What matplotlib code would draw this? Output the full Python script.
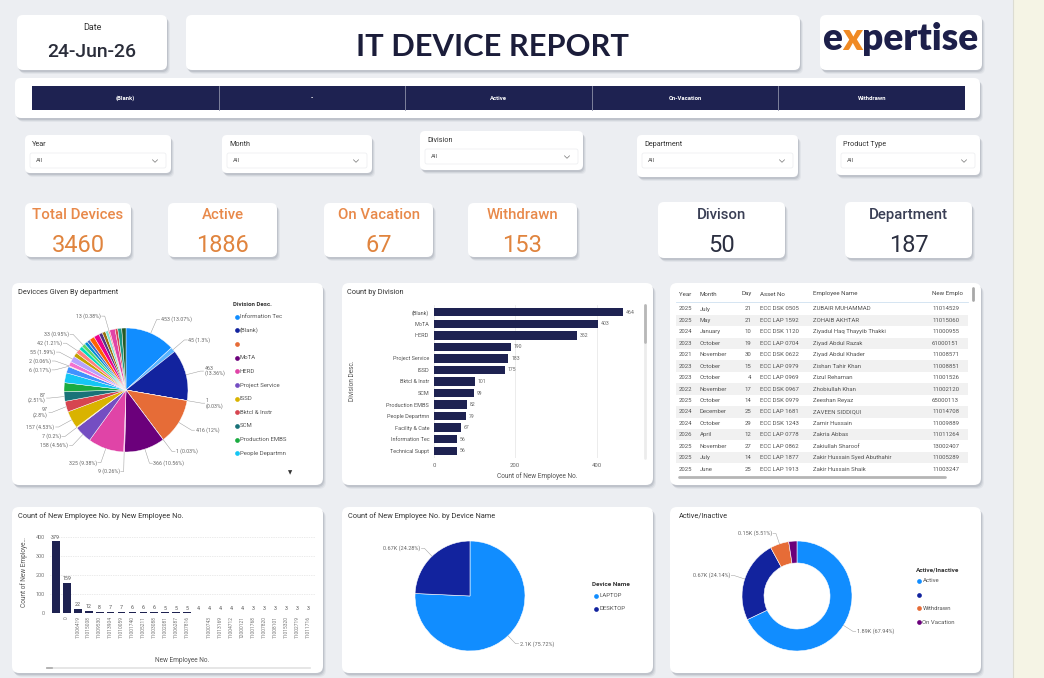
import matplotlib
matplotlib.use("Agg")
import matplotlib.pyplot as plt
from matplotlib.patches import FancyBboxPatch, Rectangle
import numpy as np

plt.rcParams['font.family'] = ['Roboto', 'DejaVu Sans']

# ---------------- data ----------------
report_date = "24-Jun-26"
report_title = "IT DEVICE REPORT"
status_labels = ["(Blank)", "-", "Active", "On-Vacation", "Withdrawn"]
filter_names = ["Year", "Month", "Division", "Department", "Product Type"]
kpi_names = ["Total Devices", "Active", "On Vacation", "Withdrawn", "Divison", "Department"]
kpi_values = [3460, 1886, 67, 153, 50, 187]

dept_values = [453, 45, 463, 1, 416, 1, 366, 9, 325, 158, 7, 157, 97, 87,
               80, 90, 58, 6, 2, 40, 55, 38, 42, 34, 33, 30, 28, 46, 50, 32, 30, 26, 13, 50, 24, 36, 38]
dept_show = [1, 1, 1, 1, 1, 1, 1, 1, 1, 1, 1, 1, 1, 1,
             0, 0, 0, 1, 1, 0, 1, 0, 1, 0, 1, 0, 0, 0, 0, 0, 0, 0, 1, 0, 0, 0, 0]
dept_colors = ['#118DFF', '#5BB5FF', '#12239E', '#FFA058', '#E66C37', '#B5A1FF', '#6B007B', '#F472D0',
               '#E044A7', '#744EC2', '#FFD54F', '#D9B300', '#D64550', '#197278', '#1AAB40', '#15C6F4',
               '#4092FF', '#FFA058', '#BE5DC9', '#F472D0', '#B5A1FF', '#C4A200', '#FF8080', '#00DBBC',
               '#5BD667', '#0091D5', '#4668C5', '#FF6300', '#EC008C', '#533285', '#99700A', '#7FE3D3',
               '#FF8080', '#E044A7', '#D64550', '#1F9A85', '#255A26']
legend1_names = ["Information Tec", "(Blank)", "", "MoTA", "HERD", "Project Service", "ISSD",
                 "Bktcl & Instr", "SCM", "Production EMBS", "People Departmn"]
legend1_colors = ['#118DFF', '#12239E', '#E66C37', '#6B007B', '#E044A7', '#744EC2', '#D9B300',
                  '#D64550', '#197278', '#1AAB40', '#15C6F4']

div_names = ["(Blank)", "MoTA", "HERD", "", "Project Service", "ISSD", "Bktcl & Instr", "SCM",
             "Production EMBS", "People Departmn", "Facility & Cate", "Information Tec", "Technical Suppt"]
div_counts = [464, 403, 352, 190, 183, 175, 101, 99, 82, 79, 67, 56, 56]

emp_ids = ["", "0", "11006419", "11015008", "11009530", "11013904", "11010059", "11001740",
           "11005211", "11003088", "11002081", "11006287", "11007816", "", "11000743", "11013169",
           "11004712", "12000121", "11001768", "11007820", "11008101", "11015320", "11002719", "11011716"]
emp_counts = [379, 159, 22, 12, 8, 7, 7, 6, 6, 6, 5, 5, 5, 4, 4, 4, 4, 4, 3, 3, 3, 3, 3, 3]

device_names = ["LAPTOP", "DESKTOP"]
device_counts = [2099, 673]

status_names = ["Active", "", "Withdrawn", "On Vacation"]
status_counts = [1886, 670, 153, 67]
status_colors = ['#118DFF', '#12239E', '#E66C37', '#6B007B']

table_headers = ["Year", "Month", "Day", "Asset No", "Employee Name", "New Emplo"]
table_year = [2025, 2025, 2024, 2023, 2021, 2023, 2023, 2022, 2025, 2024, 2024, 2026, 2025, 2025, 2025]
table_month = ["July", "May", "January", "October", "November", "October", "October", "November",
               "October", "December", "October", "April", "November", "July", "June"]
table_day = [21, 21, 10, 19, 30, 15, 4, 17, 14, 25, 29, 12, 27, 14, 25]
table_asset = ["ECC DSK 0505", "ECC LAP 1592", "ECC DSK 1120", "ECC LAP 0704", "ECC DSK 0622",
               "ECC LAP 0979", "ECC LAP 0969", "ECC DSK 0967", "ECC DSK 0979", "ECC LAP 1681",
               "ECC DSK 1243", "ECC LAP 0778", "ECC LAP 0862", "ECC LAP 1877", "ECC LAP 1913"]
table_name = ["ZUBAIR MUHAMMAD", "ZOHAIB AKHTAR", "Ziyadul Haq Thayyib Thakki", "Ziyad Abdul Razak",
              "Ziyad Abdul Khader", "Zishan Tahir Khan", "Zizul Rehaman", "Zhobiullah Khan",
              "Zeeshan Reyaz", "ZAVEEN SIDDIQUI", "Zamir Hussain", "Zakria Abbas", "Zakiullah Sharoof",
              "Zakir Hussain Syed Abuthahir", "Zakir Hussain Shaik"]
table_empno = ["11014529", "11015060", "11000955", "61000151", "11008571", "11008851", "11001526",
               "11002120", "65000113", "11014708", "11009889", "11011264", "13002407", "11005289", "11003247"]

# ---------------- figure ----------------
W, H = 1044, 678
fig = plt.figure(figsize=(W / 100, H / 100), dpi=100)
fig.patch.set_facecolor('#eceef2')
bg = fig.add_axes([0, 0, 1, 1])
bg.set_xlim(0, W)
bg.set_ylim(H, 0)
bg.axis('off')
renderer = fig.canvas.get_renderer()

NAVY = '#1e2251'


def card(x0, y0, x1, y1, r=6, fc='white', shadow=True, z=1):
    if shadow:
        for dx, dy, a in [(3, 4, 0.09), (2, 3, 0.14), (1, 2, 0.22)]:
            bg.add_patch(FancyBboxPatch((x0 + dx, y0 + dy), x1 - x0, y1 - y0,
                                        boxstyle=f"round,pad=0,rounding_size={r}",
                                        fc='#7d8290', ec='none', alpha=a, zorder=z))
    bg.add_patch(FancyBboxPatch((x0, y0), x1 - x0, y1 - y0, boxstyle=f"round,pad=0,rounding_size={r}",
                                fc=fc, ec='none', zorder=z + 0.1))


def txt(x, y, s, fs, color='#333333', ha='left', va='center', weight='normal', **kw):
    return bg.text(x, y, s, fontsize=fs, color=color, ha=ha, va=va, fontweight=weight, zorder=5, **kw)


def fit(t, width):
    w = t.get_window_extent(renderer).width
    t.set_fontsize(t.get_fontsize() * width / w)
    return t.get_fontsize()


def pax(x0, y0, x1, y1):
    ax = fig.add_axes([x0 / W, 1 - y1 / H, (x1 - x0) / W, (y1 - y0) / H])
    ax.patch.set_alpha(0)
    return ax


# right strip
bg.add_patch(Rectangle((1013, 0), W - 1013, H, fc='#f5f4e5', ec='none', zorder=0.5))
bg.plot([1013, 1013], [0, H], color='#dcdcd2', lw=0.8, zorder=0.6)

# ---------------- header ----------------
card(17, 15, 167, 70)
txt(92, 30, "Date", 6.5, color='#333333', ha='center', va='baseline')
t = txt(92, 57, report_date, 12, color='#2a2d3a', ha='center', va='baseline', weight='medium')
fit(t, 89)

card(186, 15, 800, 70)
t = txt(493, 56, report_title, 22, color='#1b1d3a', ha='center', va='baseline', weight='bold',
        family=['Lato', 'DejaVu Sans'])
fit(t, 273)

card(820, 15, 982, 70)
tmp = txt(0, 50, "expertise", 20, weight='heavy', va='baseline', family=['Lato', 'DejaVu Sans'])
sc = 156 / tmp.get_window_extent(renderer).width
tmp.remove()
xcur = 822
for part, col in [("e", '#1d1f4a'), ("x", '#f08a24'), ("pertise", '#1d1f4a')]:
    tp = txt(xcur, 50, part, 20 * sc, color=col, weight='heavy', va='baseline', family=['Lato', 'DejaVu Sans'])
    xcur = tp.get_window_extent(renderer).x1

card(15, 78, 980, 118)
bg.add_patch(Rectangle((32, 86), 965 - 32, 24, fc=NAVY, ec='none', zorder=2))
cw = (965 - 32) / len(status_labels)
for i, s in enumerate(status_labels):
    if i > 0:
        bg.plot([32 + i * cw] * 2, [86, 110], color='#8d90a8', lw=0.6, zorder=3)
    txt(32 + (i + 0.5) * cw, 98, s, 4.2, color='white', ha='center', weight='bold')

# ---------------- filters ----------------
fboxes = [(25, 135, 171, 173), (222, 135, 372, 173), (420, 131, 583, 170), (637, 135, 798, 177), (836, 135, 980, 175)]
for name, (x0, y0, x1, y1) in zip(filter_names, fboxes):
    card(x0, y0, x1, y1, r=5)
    txt(x0 + 7, y0 + 9, name, 5.2, color='#333333')
    bg.add_patch(FancyBboxPatch((x0 + 5, y0 + 18), x1 - x0 - 10, 15, boxstyle="round,pad=0,rounding_size=2",
                                fc='white', ec='#ebecef', lw=0.5, zorder=2))
    ymid = y0 + 26
    txt(x0 + 11, ymid, "All", 4.3, color='#555555')
    cx = x1 - 16
    bg.plot([cx - 2.5, cx, cx + 2.5], [ymid - 1.2, ymid + 1.3, ymid - 1.2], color='#777777', lw=0.5, zorder=5)

# ---------------- KPI cards ----------------
kboxes = [(25, 203, 131, 257), (168, 203, 277, 257), (324, 203, 433, 257), (468, 203, 577, 257),
          (658, 202, 785, 258), (845, 202, 972, 258)]
lab_fs = None
for k, (name, val, (x0, y0, x1, y1)) in enumerate(zip(kpi_names, kpi_values, kboxes)):
    card(x0, y0, x1, y1, r=6)
    cx = (x0 + x1) / 2
    lc = '#e8894a' if k < 4 else '#3a3f55'
    vc = '#e0843e' if k < 4 else '#2b2f40'
    tl = txt(cx, 219, name, 9, color=lc, ha='center', va='baseline', weight='medium')
    if lab_fs is None:
        lab_fs = fit(tl, 91)
    tl.set_fontsize(lab_fs)
    txt(cx, 251.5, str(val), 17, color=vc, ha='center', va='baseline', weight='normal')

# ---------------- chart panels ----------------
panels = [(12, 283, 323, 485), (342, 283, 653, 485), (670, 283, 981, 485),
          (12, 507, 323, 673), (342, 507, 653, 673), (670, 507, 981, 673)]
for p in panels:
    card(*p, r=7)

TITLE_FS = 5.3
txt(18, 293, "Devicces Given By department", TITLE_FS, color='#333333')
txt(347, 292, "Count by Division", TITLE_FS, color='#333333')
txt(18, 516, "Count of New Employee No. by New Employee No.", TITLE_FS, color='#333333')
txt(348, 516, "Count of New Employee No. by Device Name", TITLE_FS, color='#333333')
txt(679, 516, "Active/Inactive", TITLE_FS, color='#333333')


def place_labels(ax, wedges, labels, cx, cy, r, fs=3.8, rl=1.2, line_h=5.4, gap=3.5, color='#666666'):
    items = []
    for w, lab in zip(wedges, labels):
        if not lab:
            continue
        a = np.deg2rad((w.theta1 + w.theta2) / 2)
        ca, sa = np.cos(a), np.sin(a)
        items.append(dict(t=lab, ex=cx + r * ca, ey=cy + r * sa, lx=cx + r * rl * ca, ly=cy + r * rl * sa,
                          side=1 if ca >= 0 else -1, n=lab.count('\n') + 1))
    for side in (1, -1):
        its = sorted([i for i in items if i['side'] == side], key=lambda d: -d['ly'])
        for k in range(1, len(its)):
            need = (its[k - 1]['n'] + its[k]['n']) * line_h / 2 + gap
            if its[k - 1]['ly'] - its[k]['ly'] < need:
                its[k]['ly'] = its[k - 1]['ly'] - need
    for it in items:
        s = it['side']
        ax.plot([it['ex'], it['lx'], it['lx'] + s * 3], [it['ey'], it['ly'], it['ly']],
                color='#9a9a9a', lw=0.35, zorder=3)
        ax.text(it['lx'] + s * 4, it['ly'], it['t'], fontsize=fs, color=color,
                ha='left' if s > 0 else 'right', va='center', zorder=4, linespacing=1.0)


def pct_str(v, tot):
    p = f"{100 * v / tot:.2f}".rstrip('0').rstrip('.')
    return f"({p}%)"


def k_str(v):
    return f"{v / 1000:.2f}".rstrip('0').rstrip('.') + "K"


# ---- pie 1 ----
ax1 = pax(12, 283, 323, 485)
cx1, cy1, r1 = 126, H - 390, 62
w1, _ = ax1.pie(dept_values, colors=dept_colors, startangle=90, counterclock=False, center=(cx1, cy1),
                radius=r1, wedgeprops=dict(linewidth=0.3, edgecolor='white'))
tot1 = sum(dept_values)
labs1 = []
for w, v, sh in zip(w1, dept_values, dept_show):
    if not sh:
        labs1.append("")
        continue
    a = np.deg2rad((w.theta1 + w.theta2) / 2)
    sep = "\n" if abs(np.cos(a)) > 0.93 else " "
    labs1.append(f"{v}{sep}{pct_str(v, tot1)}")
place_labels(ax1, w1, labs1, cx1, cy1, r1, rl=1.24)
ax1.set_aspect('auto')
ax1.set_xlim(12, 323)
ax1.set_ylim(H - 485, H - 283)
ax1.axis('off')

txt(233, 305, "Division Desc.", 4.4, color='#333333', weight='bold')
for i, (nm, c) in enumerate(zip(legend1_names, legend1_colors)):
    y = 316.7 + i * 13.66
    bg.plot(236.5, y, 'o', ms=3.4, color=c, zorder=5, mec='none')
    txt(240, y, nm, 4.3, color='#555555')
txt(290, 473, "▼", 4.0, color='#333333', ha='center', family=['DejaVu Sans'])

# ---- bar chart: count by division ----
ax2 = pax(434, 305.4, 640, 457.6)
yp = np.arange(len(div_names))
ax2.barh(yp, div_counts, height=0.72, color=NAVY, zorder=3)
ax2.set_ylim(len(div_names) - 0.4, -0.6)
ax2.set_xlim(0, 507)
ax2.set_xticks([0, 200, 400])
ax2.set_yticks(yp)
ax2.set_yticklabels(div_names)
ax2.tick_params(axis='y', length=0, pad=3.5, labelsize=4.0, labelcolor='#555555')
ax2.tick_params(axis='x', length=0, pad=4, labelsize=4.3, labelcolor='#666666')
ax2.grid(axis='x', color='#e4e4e4', lw=0.5, zorder=0)
for sp in ax2.spines.values():
    sp.set_visible(False)
for i, v in enumerate(div_counts):
    ax2.text(v + 7, i, str(v), fontsize=3.7, color='#666666', va='center', zorder=4)
txt(537, 476, "Count of New Employee No.", 4.7, color='#555555', ha='center')
txt(352, 381, "Division Desc.", 4.7, color='#555555', ha='center', rotation=90)
bg.plot([645, 645], [305, 458], color='#ececec', lw=2.0, zorder=4, solid_capstyle='round')
bg.plot([645, 645], [305, 342], color='#b8b8b8', lw=2.0, zorder=4.5, solid_capstyle='round')

# ---- table ----
cols_x = [679, 700, 751, 760, 813, 932]
aligns = ['left', 'left', 'right', 'left', 'left', 'left']
hx = [679, 700, 742, 760, 813, 932]
for h, x in zip(table_headers, hx):
    txt(x, 294, h, 4.4, color='#444444')
bg.plot([676, 968], [302, 302], color='#cfe0f0', lw=0.6, zorder=3)
row_h = 11.43
for r in range(len(table_year)):
    y = 309 + r * row_h
    if r % 2 == 1:
        bg.add_patch(Rectangle((676, y - row_h / 2), 292, row_h, fc='#f1f1f1', ec='none', zorder=2))
    vals = [str(table_year[r]), table_month[r], str(table_day[r]), table_asset[r], table_name[r], table_empno[r]]
    for v, x, al in zip(vals, cols_x, aligns):
        txt(x, y, v, 4.3, color='#555555', ha=al)
bg.plot([679, 945], [476.5, 476.5], color='#b5b5b5', lw=2.0, zorder=4, solid_capstyle='round')
bg.plot([973, 973], [288, 300], color='#a8a8a8', lw=2.0, zorder=4, solid_capstyle='round')

# ---- bar chart: count by employee no ----
ax4 = pax(50, 525, 315, 613.3)
xp = np.arange(len(emp_counts))
ax4.bar(xp, emp_counts, width=0.72, color=NAVY, zorder=3)
ax4.set_xlim(-0.52, len(emp_counts) - 0.36)
ax4.set_ylim(0, 465)
ax4.set_yticks([0, 100, 200, 300, 400])
ax4.set_xticks(xp)
ax4.set_xticklabels(emp_ids, rotation=90)
ax4.tick_params(axis='x', length=0, pad=2, labelsize=3.5, labelcolor='#777777')
ax4.tick_params(axis='y', length=0, pad=4, labelsize=4.0, labelcolor='#777777')
ax4.grid(axis='y', color='#d6d6d6', lw=0.5, linestyle=(0, (1, 1.5)), zorder=0)
for sp in ax4.spines.values():
    sp.set_visible(False)
for i, v in enumerate(emp_counts):
    ax4.text(i, v + 9, str(v), fontsize=3.8, color='#555555', ha='center', va='bottom', zorder=4)
txt(182, 660, "New Employee No.", 4.7, color='#555555', ha='center')
txt(24, 572, "Count of New Employe…", 4.7, color='#555555', ha='center', rotation=90)
bg.plot([47, 310], [668, 668], color='#e2e2e2', lw=1.2, zorder=4)
bg.plot([47, 52], [668, 668], color='#aaaaaa', lw=1.2, zorder=4.5)

# ---- pie 2: device name ----
ax5 = pax(342, 507, 653, 673)
cx5, cy5, r5 = 470, H - 596, 55
w5, _ = ax5.pie(device_counts, colors=['#118DFF', '#12239E'], startangle=90, counterclock=False,
                center=(cx5, cy5), radius=r5, wedgeprops=dict(linewidth=0.4, edgecolor='white'))
tot5 = sum(device_counts)
place_labels(ax5, w5, [f"{k_str(v)} {pct_str(v, tot5)}" for v in device_counts], cx5, cy5, r5, fs=4.0)
ax5.set_aspect('auto')
ax5.set_xlim(342, 653)
ax5.set_ylim(H - 673, H - 507)
ax5.axis('off')
txt(592, 584, "Device Name", 4.6, color='#333333', weight='bold')
for i, (nm, c) in enumerate(zip(device_names, ['#118DFF', '#12239E'])):
    y = 595.5 + i * 13
    bg.plot(595.5, y, 'o', ms=3.4, color=c, zorder=5, mec='none')
    txt(599, y, nm, 4.3, color='#555555')

# ---- donut: active/inactive ----
ax6 = pax(670, 507, 981, 673)
cx6, cy6, r6 = 797, H - 596, 55
w6, _ = ax6.pie(status_counts, colors=status_colors, startangle=90, counterclock=False,
                center=(cx6, cy6), radius=r6, wedgeprops=dict(width=22, linewidth=0.4, edgecolor='white'))
tot6 = sum(status_counts)
labs6 = [f"{k_str(v)} {pct_str(v, tot6)}" if v > 100 else "" for v in status_counts]
place_labels(ax6, w6, labs6, cx6, cy6, r6, fs=4.0, gap=6)
ax6.set_aspect('auto')
ax6.set_xlim(670, 981)
ax6.set_ylim(H - 673, H - 507)
ax6.axis('off')
txt(916, 570, "Active/Inactive", 4.6, color='#333333', weight='bold')
for i, (nm, c) in enumerate(zip(status_names, status_colors)):
    y = 581 + i * 13.7
    bg.plot(919, y, 'o', ms=3.4, color=c, zorder=5, mec='none')
    txt(922.5, y, nm, 4.3, color='#555555')

fig.savefig("out.png", dpi=100, facecolor=fig.get_facecolor())
